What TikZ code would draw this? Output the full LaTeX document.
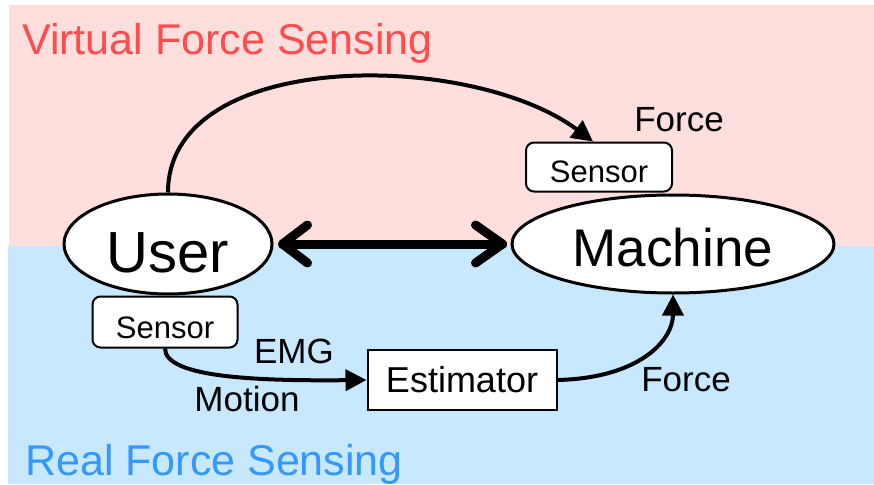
\documentclass[tikz,border=0pt]{standalone}
\usepackage{fontspec}
\setmainfont{Liberation Sans}
\usetikzlibrary{shapes.geometric,arrows.meta}
\definecolor{virtualbg}{RGB}{255,222,222}
\definecolor{realbg}{RGB}{200,232,255}
\definecolor{virtualtxt}{RGB}{255,76,76}
\definecolor{realtxt}{RGB}{51,153,255}
\begin{document}
\begin{tikzpicture}[x=1pt,y=-1pt,
  oval/.style={ellipse,draw,line width=3pt,fill=white,inner sep=0pt,text depth=0pt},
  sensorbox/.style={draw,line width=2pt,fill=white,rounded corners=8pt,
    minimum width=146pt,minimum height=49pt,inner sep=0pt,text depth=0pt,
    font=\fontsize{31}{36}\selectfont},
  flow/.style={line width=4pt,-{Triangle[length=21pt,width=21pt]}},
  lbl/.style={inner sep=0pt,font=\fontsize{35}{40}\selectfont},
  title/.style={anchor=base west,inner sep=0pt,font=\fontsize{43}{50}\selectfont},
  bigarrow/.style={line width=9pt,line cap=round,line join=round}]
\useasboundingbox (0,0) rectangle (874,484);

% two bands: virtual (top) and real (bottom) sensing
\fill[virtualbg] (9,5) rectangle (874,246);
\fill[realbg] (8,246) rectangle (874,484);
\node[title,text=virtualtxt] (vtitle) at (22,55) {Virtual Force Sensing};
\node[title,text=realtxt] (rtitle) at (25,475) {Real Force Sensing};

% main blocks
\node[oval,minimum width=208pt,minimum height=100pt,text height=56pt,
  font=\fontsize{58}{64}\selectfont] (user) at (168,244) {User};
\node[oval,minimum width=322pt,minimum height=98pt,text height=45pt,
  font=\fontsize{53}{60}\selectfont] (machine) at (673,244) {Machine};
\node[sensorbox,text height=30pt] (sensA) at (599,167) {Sensor};
\node[sensorbox,text height=32pt,minimum width=145pt,minimum height=51pt] (sensB) at (165,322) {Sensor};
\node[draw,line width=2pt,fill=white,minimum width=189pt,minimum height=60pt,
  inner sep=0pt,font=\fontsize{36}{42}\selectfont] (est) at (462,380) {Estimator};

% labels
\node[lbl] (forceA) at (679,120) {Force};
\node[lbl] (forceB) at (686,380) {Force};
\node[lbl] (emg) at (294,351) {EMG};
\node[lbl] (motion) at (247,399) {Motion};

% interaction between user and machine
\draw[bigarrow] ([xshift=9pt]user.east) -- ([xshift=-8pt]machine.west);
\draw[bigarrow] ([xshift=34pt,yshift=-19pt]user.east) -- ([xshift=9pt]user.east)
  -- ([xshift=34pt,yshift=19pt]user.east);
\draw[bigarrow] ([xshift=-35pt,yshift=-19pt]machine.west) -- ([xshift=-8pt]machine.west)
  -- ([xshift=-35pt,yshift=19pt]machine.west);

% signal paths
\draw[flow] (user.north) .. controls (168,48) and (470,50) .. ([xshift=-6pt]sensA.north);
\draw[flow] (sensB.south) .. controls (165,378) and (260,381) .. (est.west);
\draw[flow] (est.east) .. controls (640,378) and (673,340) .. (machine.south);
\end{tikzpicture}
\end{document}
